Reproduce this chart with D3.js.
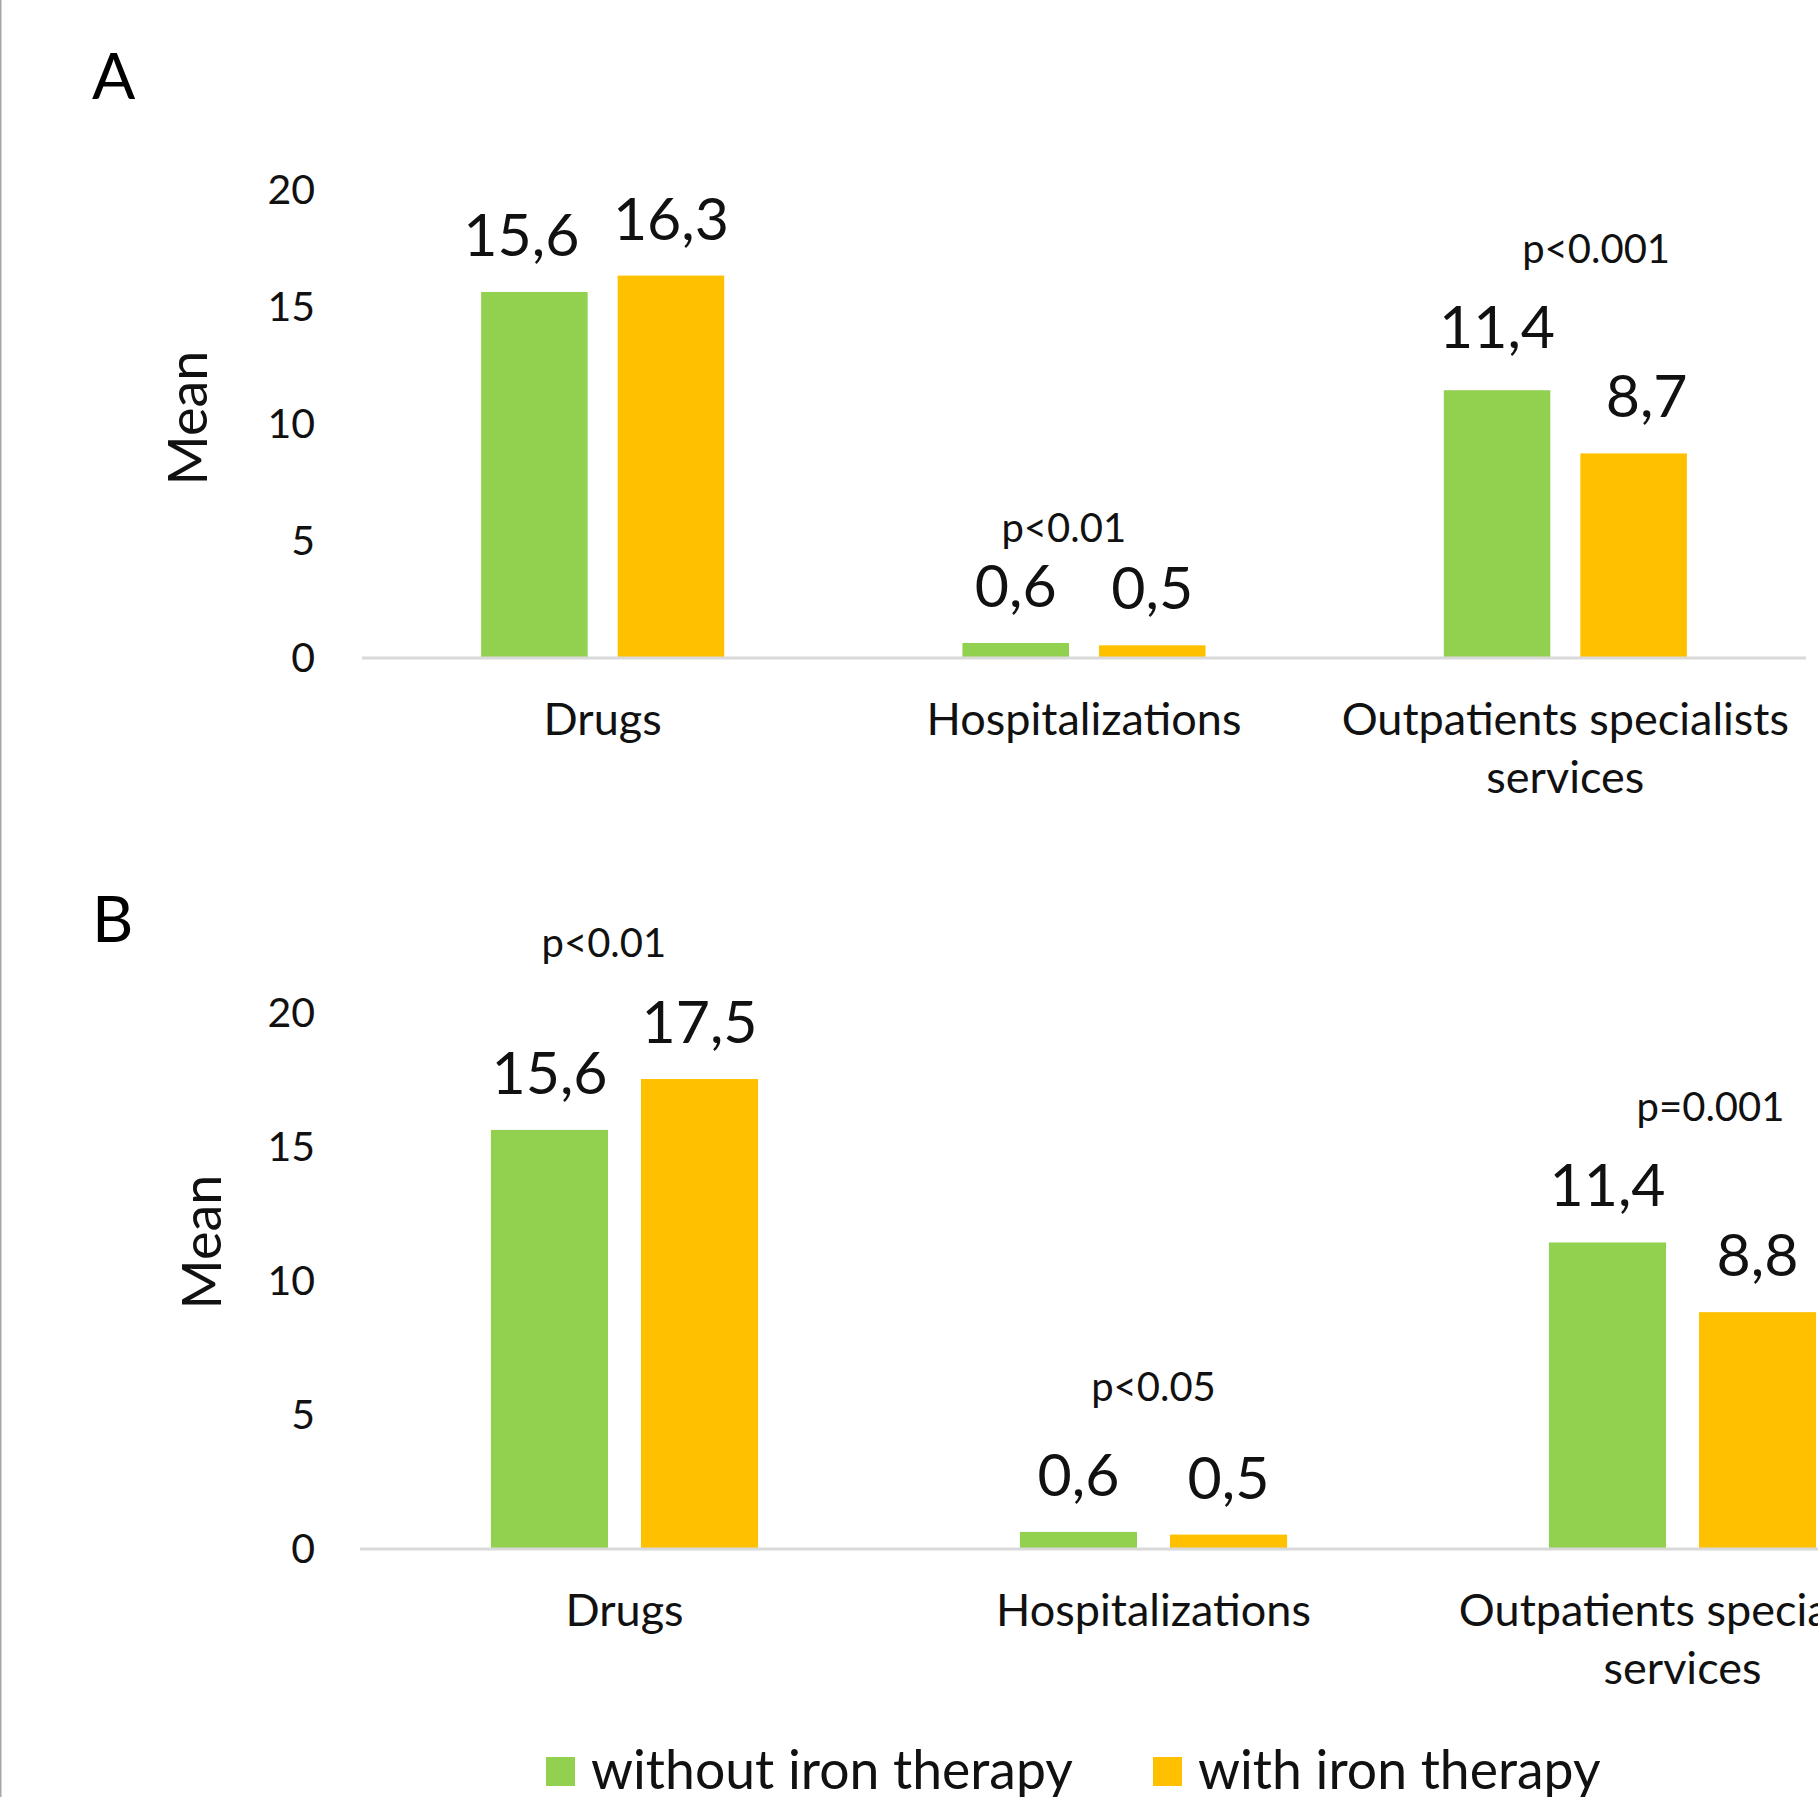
<!DOCTYPE html>
<html>
<head>
<meta charset="utf-8">
<script src="https://cdn.jsdelivr.net/npm/d3@7"></script>
<style>
  html, body { margin: 0; padding: 0; background: #fff; overflow: hidden; }
  svg { display: block; font-family: Lato, "Open Sans", sans-serif; }
</style>
</head>
<body>
<svg id="chart" width="1818" height="1797"></svg>
<script>
// ---------------- data ----------------
const categories = ["Drugs", "Hospitalizations", "Outpatients specialists services"];
const seriesNames = ["without iron therapy", "with iron therapy"];
const yTicks = [0, 5, 10, 15, 20];

// Panel A
const panelA_without = [15.6, 0.6, 11.4];
const panelA_with    = [16.3, 0.5, 8.7];
const panelA_pCats   = ["Hospitalizations", "Outpatients specialists services"];
const panelA_pTexts  = ["p<0.01", "p<0.001"];
const panelA_pY      = [4.9, 16.84];     // data-unit height of annotation
const panelA_pShift  = [-0.042, 0.064];  // fraction of category band

// Panel B
const panelB_without = [15.6, 0.6, 11.4];
const panelB_with    = [17.5, 0.5, 8.8];
const panelB_pCats   = ["Drugs", "Hospitalizations", "Outpatients specialists services"];
const panelB_pTexts  = ["p<0.01", "p<0.05", "p=0.001"];
const panelB_pY      = [22.07, 5.5, 15.93];
const panelB_pShift  = [-0.039, 0, 0.053];

// ---------------- styles ----------------
const colors = ["#92D050", "#FFC000"];
const textColor = "#111";
const locale = d3.formatLocale({decimal: ",", thousands: ".", grouping: [3], currency: ["", ""]});
const fmt = locale.format(".1f");

const svg = d3.select("#chart");

// left frame border
svg.append("line").attr("x1", 0.75).attr("x2", 0.75).attr("y1", 0).attr("y2", 1797)
  .attr("stroke", "#a6a6a6").attr("stroke-width", 1.5);

function drawPanel(opt) {
  const g = svg.append("g");
  const x0 = d3.scaleBand().domain(categories).range(opt.xRange);
  const bw = x0.bandwidth();
  const x1 = d3.scaleBand().domain(seriesNames)
    .range([-0.2525 * bw, 0.2525 * bw]).paddingInner(0.22);
  const y = d3.scaleLinear().domain([0, 20]).range(opt.yRange);

  // panel letter
  g.append("text").attr("x", 92).attr("y", opt.letterY)
    .attr("font-size", 64).attr("fill", "#000").text(opt.letter);

  // y axis tick labels (no line)
  const yAxis = d3.axisLeft(y).tickValues(yTicks).tickSize(0).tickPadding(0)
    .tickFormat(d3.format("d"));
  const ya = g.append("g").attr("transform", `translate(315,0)`).call(yAxis);
  ya.select(".domain").remove();
  ya.selectAll("text").attr("font-size", 41).attr("fill", textColor)
    .attr("font-family", "Lato, 'Open Sans', sans-serif").attr("dy", "0.36em");

  // y axis title
  g.append("text")
    .attr("transform", `translate(${opt.titleX},${opt.titleY}) rotate(-90)`)
    .attr("text-anchor", "middle").attr("dominant-baseline", "central")
    .attr("font-size", 54).attr("fill", textColor).text("Mean");

  // bars
  const rows = categories.map((c, i) => ({cat: c, ci: i, vals: [opt.without[i], opt.with[i]]}));
  const grp = g.selectAll("g.cat").data(rows).join("g")
    .attr("transform", d => `translate(${x0(d.cat) + bw / 2},0)`);
  grp.selectAll("rect").data(d => d.vals.map((v, k) => ({s: seriesNames[k], v, k})))
    .join("rect")
    .attr("x", d => x1(d.s)).attr("width", x1.bandwidth())
    .attr("y", d => y(d.v)).attr("height", d => y(0) - y(d.v))
    .attr("fill", d => colors[d.k]);
  grp.selectAll("text.val").data(d => d.vals.map((v, k) => ({s: seriesNames[k], v, k, ci: d.ci})))
    .join("text").attr("class", "val")
    .attr("x", d => x1(d.s) + x1.bandwidth() / 2 + (opt.nudge[d.ci * 2 + d.k] || [0, 0])[0])
    .attr("y", d => y(d.v) - 36 + (opt.nudge[d.ci * 2 + d.k] || [0, 0])[1])
    .attr("text-anchor", "middle").attr("font-size", 59).attr("fill", textColor)
    .text(d => fmt(d.v));

  // x axis line
  g.append("line").attr("x1", opt.xRange[0]).attr("x2", opt.xRange[1])
    .attr("y1", y(0) + 1).attr("y2", y(0) + 1)
    .attr("stroke", "#d9d9d9").attr("stroke-width", 3);

  // category labels
  const labelLines = {
    "Drugs": ["Drugs"],
    "Hospitalizations": ["Hospitalizations"],
    "Outpatients specialists services": ["Outpatients specialists", "services"]
  };
  categories.forEach(c => {
    const t = g.append("text").attr("x", x0(c) + bw / 2).attr("y", y(0) + 78)
      .attr("text-anchor", "middle").attr("font-size", 45).attr("fill", textColor);
    labelLines[c].forEach((ln, i) => {
      t.append("tspan").attr("x", x0(c) + bw / 2).attr("dy", i === 0 ? 0 : 58).text(ln);
    });
  });

  // p-value annotations
  opt.pCats.forEach((c, i) => {
    g.append("text").attr("x", x0(c) + bw / 2 + opt.pShift[i] * bw).attr("y", y(opt.pY[i]))
      .attr("text-anchor", "middle").attr("font-size", 40).attr("fill", textColor)
      .text(opt.pTexts[i]);
  });
}

drawPanel({
  letter: "A", letterY: 99, xRange: [362, 1806], yRange: [657, 189],
  titleX: 186, titleY: 418,
  without: panelA_without, with: panelA_with,
  pCats: panelA_pCats, pTexts: panelA_pTexts, pY: panelA_pY, pShift: panelA_pShift,
  nudge: [[-13, 0], [0, 0], [0, 0], [0, 0], [0, -6], [13, 0]]
});
drawPanel({
  letter: "B", letterY: 942, xRange: [360, 1947], yRange: [1548, 1012],
  titleX: 200, titleY: 1242,
  without: panelB_without, with: panelB_with,
  pCats: panelB_pCats, pTexts: panelB_pTexts, pY: panelB_pY, pShift: panelB_pShift,
  nudge: []
});

// legend
const legend = svg.append("g");
const legendX = [546, 1153];
seriesNames.forEach((s, i) => {
  legend.append("rect").attr("x", legendX[i]).attr("y", 1757).attr("width", 29).attr("height", 29)
    .attr("fill", colors[i]);
  legend.append("text").attr("x", legendX[i] + 45).attr("y", 1789)
    .attr("font-size", 53.5).attr("fill", textColor).text(s);
});
</script>
</body>
</html>
